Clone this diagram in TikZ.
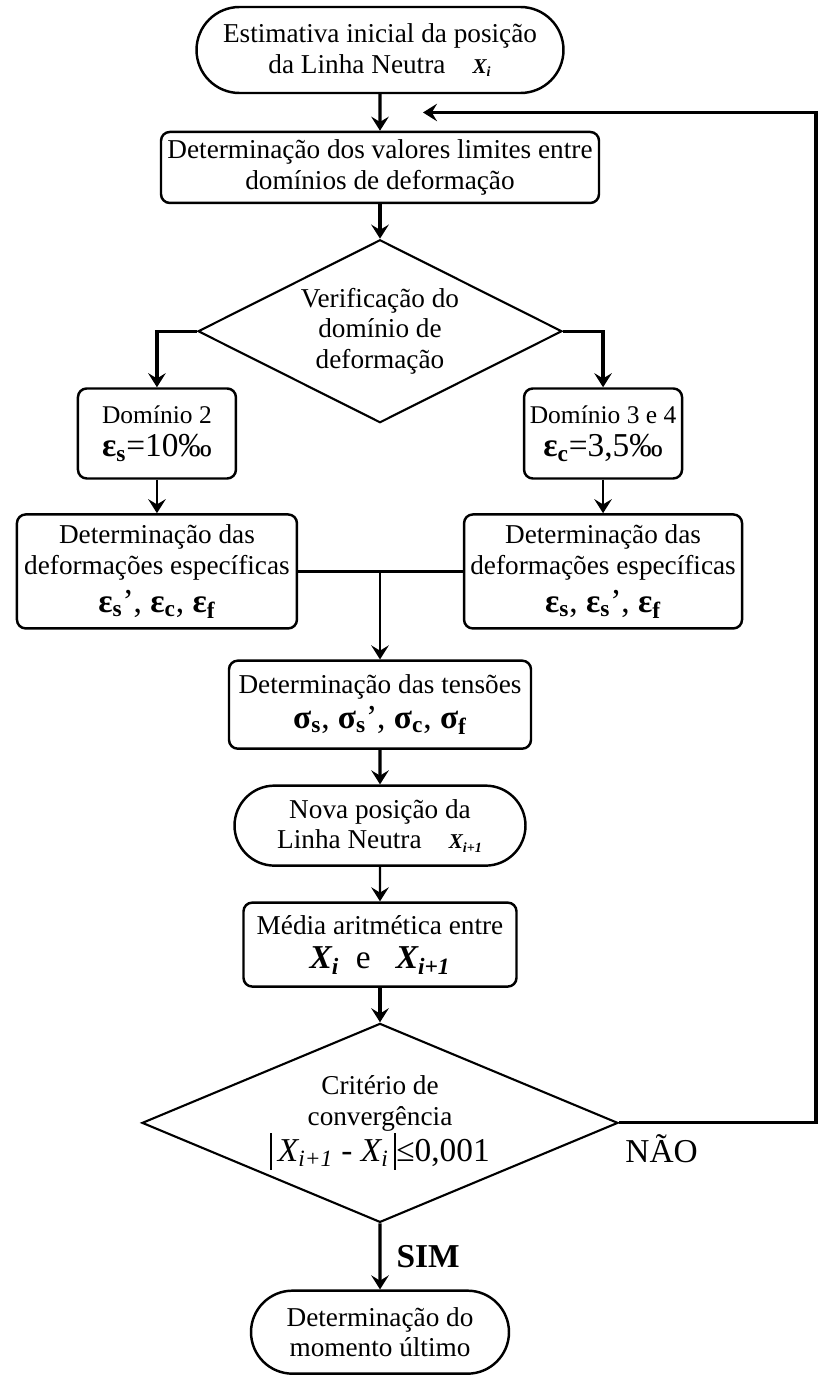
\documentclass[tikz,border=0pt]{standalone}
\usepackage{fontspec}
\setmainfont{Liberation Serif}
\usetikzlibrary{shapes.geometric, shapes.misc, arrows.meta, positioning, calc}

\newcommand{\epsl}[1]{\textbf{ε\textsubscript{#1}}}
\newcommand{\sigm}[1]{\textbf{σ\textsubscript{#1}}}
\newcommand{\xvar}[1]{\textbf{\textit{X\textsubscript{#1}}}}
\newcommand{\bigline}{\fontsize{19}{21}\selectfont}
\newcommand{\absbar}{\rule[-5pt]{1.2pt}{21pt}}

\begin{document}
\begin{tikzpicture}[
    node distance=0.69cm,
    base/.style={draw, line width=1.4pt, align=center, inner sep=2pt, font=\fontsize{15.5}{17.5}\selectfont},
    term/.style={base, rounded rectangle},
    box/.style={base, rectangle, rounded corners=5pt},
    decision/.style={base, diamond, inner sep=0pt, line width=1.2pt},
    arrow/.style={-{Stealth[length=8pt, width=10pt, inset=3pt]}, line width=1.8pt},
    thinarrow/.style={arrow, line width=1.3pt},
    link/.style={line width=1.3pt},
    answer/.style={inner sep=0pt, font=\fontsize{19}{22}\selectfont}
]
\useasboundingbox (0,0) rectangle (16.4,-27.68);
\node[term, minimum width=7.48cm, minimum height=1.72cm] (start) at (7.6,-1.0) {Estimativa inicial da posição\\da Linha Neutra\quad{\fontsize{12}{14}\selectfont\xvar{i}}};
\node[box, below=0.73cm of start, minimum width=8.76cm, minimum height=1.42cm] (limits) {Determinação dos valores limites entre\\domínios de deformação};
\node[decision, aspect=2, below=0.69cm of limits, minimum width=7.28cm, minimum height=3.66cm] (dominio) {Verificação do\\domínio de\\deformação};
\node[box, below=1.12cm of dominio.west, xshift=-0.8cm, minimum width=3.16cm, minimum height=1.8cm, font=\fontsize{14.5}{17}\selectfont] (dom2) {Domínio 2\\[2pt]{\bigline\epsl{s}=10‰}};
\node[box, below=1.12cm of dominio.east, xshift=0.8cm, minimum width=3.16cm, minimum height=1.8cm, font=\fontsize{14.5}{17}\selectfont] (dom34) {Domínio 3 e 4\\[2pt]{\bigline\epsl{c}=3,5‰}};
\node[box, below=0.67cm of dom2, minimum width=5.6cm, minimum height=2.28cm] (defL) {Determinação das\\deformações específicas\\[4pt]{\bigline\epsl{s}’, \epsl{c}, \epsl{f}}};
\node[box, below=0.67cm of dom34, minimum width=5.56cm, minimum height=2.28cm] (defR) {Determinação das\\deformações específicas\\[4pt]{\bigline\epsl{s}, \epsl{s}’, \epsl{f}}};
\coordinate (junction) at (dominio.south |- defL.east);
\node[box, below=1.76cm of junction, minimum width=6.04cm, minimum height=1.76cm] (tensoes) {Determinação das tensões\\[2pt]{\bigline\sigm{s}, \sigm{s}’, \sigm{c}, \sigm{f}}};
\node[term, below=0.69cm of tensoes, minimum width=5.96cm, minimum height=1.6cm] (nova) {Nova posição da\\Linha Neutra\quad{\fontsize{12}{14}\selectfont\xvar{i+1}}};
\node[box, below=0.69cm of nova, minimum width=5.46cm, minimum height=1.68cm] (media) {Média aritmética entre\\[2pt]{\bigline\xvar{i}\ \ e\ \ \ \xvar{i+1}}};
\node[decision, aspect=2.4, below=0.69cm of media, minimum width=9.52cm, minimum height=3.98cm] (criterio) {Critério de\\convergência\\{\bigline\absbar\,\textit{X\textsubscript{i+1}} - \textit{X\textsubscript{i}}\,\absbar≤0,001}};
\node[term, below=1.32cm of criterio, minimum width=5.3cm, minimum height=1.66cm] (fim) {Determinação do\\momento último};
\coordinate (back) at ($(start.south)!0.5!(limits.north)+(0.86,0)$);
\coordinate (edge) at ($(criterio.east)+(3.94,0)$);
\draw[arrow] (start) -- (limits);
\draw[arrow] (limits) -- (dominio);
\draw[arrow] (dominio.west) -| (dom2.north);
\draw[arrow] (dominio.east) -| (dom34.north);
\draw[thinarrow] (dom2) -- (defL);
\draw[thinarrow] (dom34) -- (defR);
\draw[link] (defL.east) -- (defR.west);
\draw[thinarrow] (junction) -- (tensoes);
\draw[arrow] (tensoes) -- (nova);
\draw[thinarrow] (nova) -- (media);
\draw[arrow] (media) -- (criterio);
\draw[arrow] (criterio) -- node[right=0.3cm, answer, font=\fontsize{19}{22}\selectfont\bfseries] (sim) {SIM} (fim);
\draw[arrow] (criterio.east) -- (edge) |- (back);
\node[answer, below right=0.22cm and 0.12cm of criterio.east] (nao) {NÃO};
\end{tikzpicture}
\end{document}
